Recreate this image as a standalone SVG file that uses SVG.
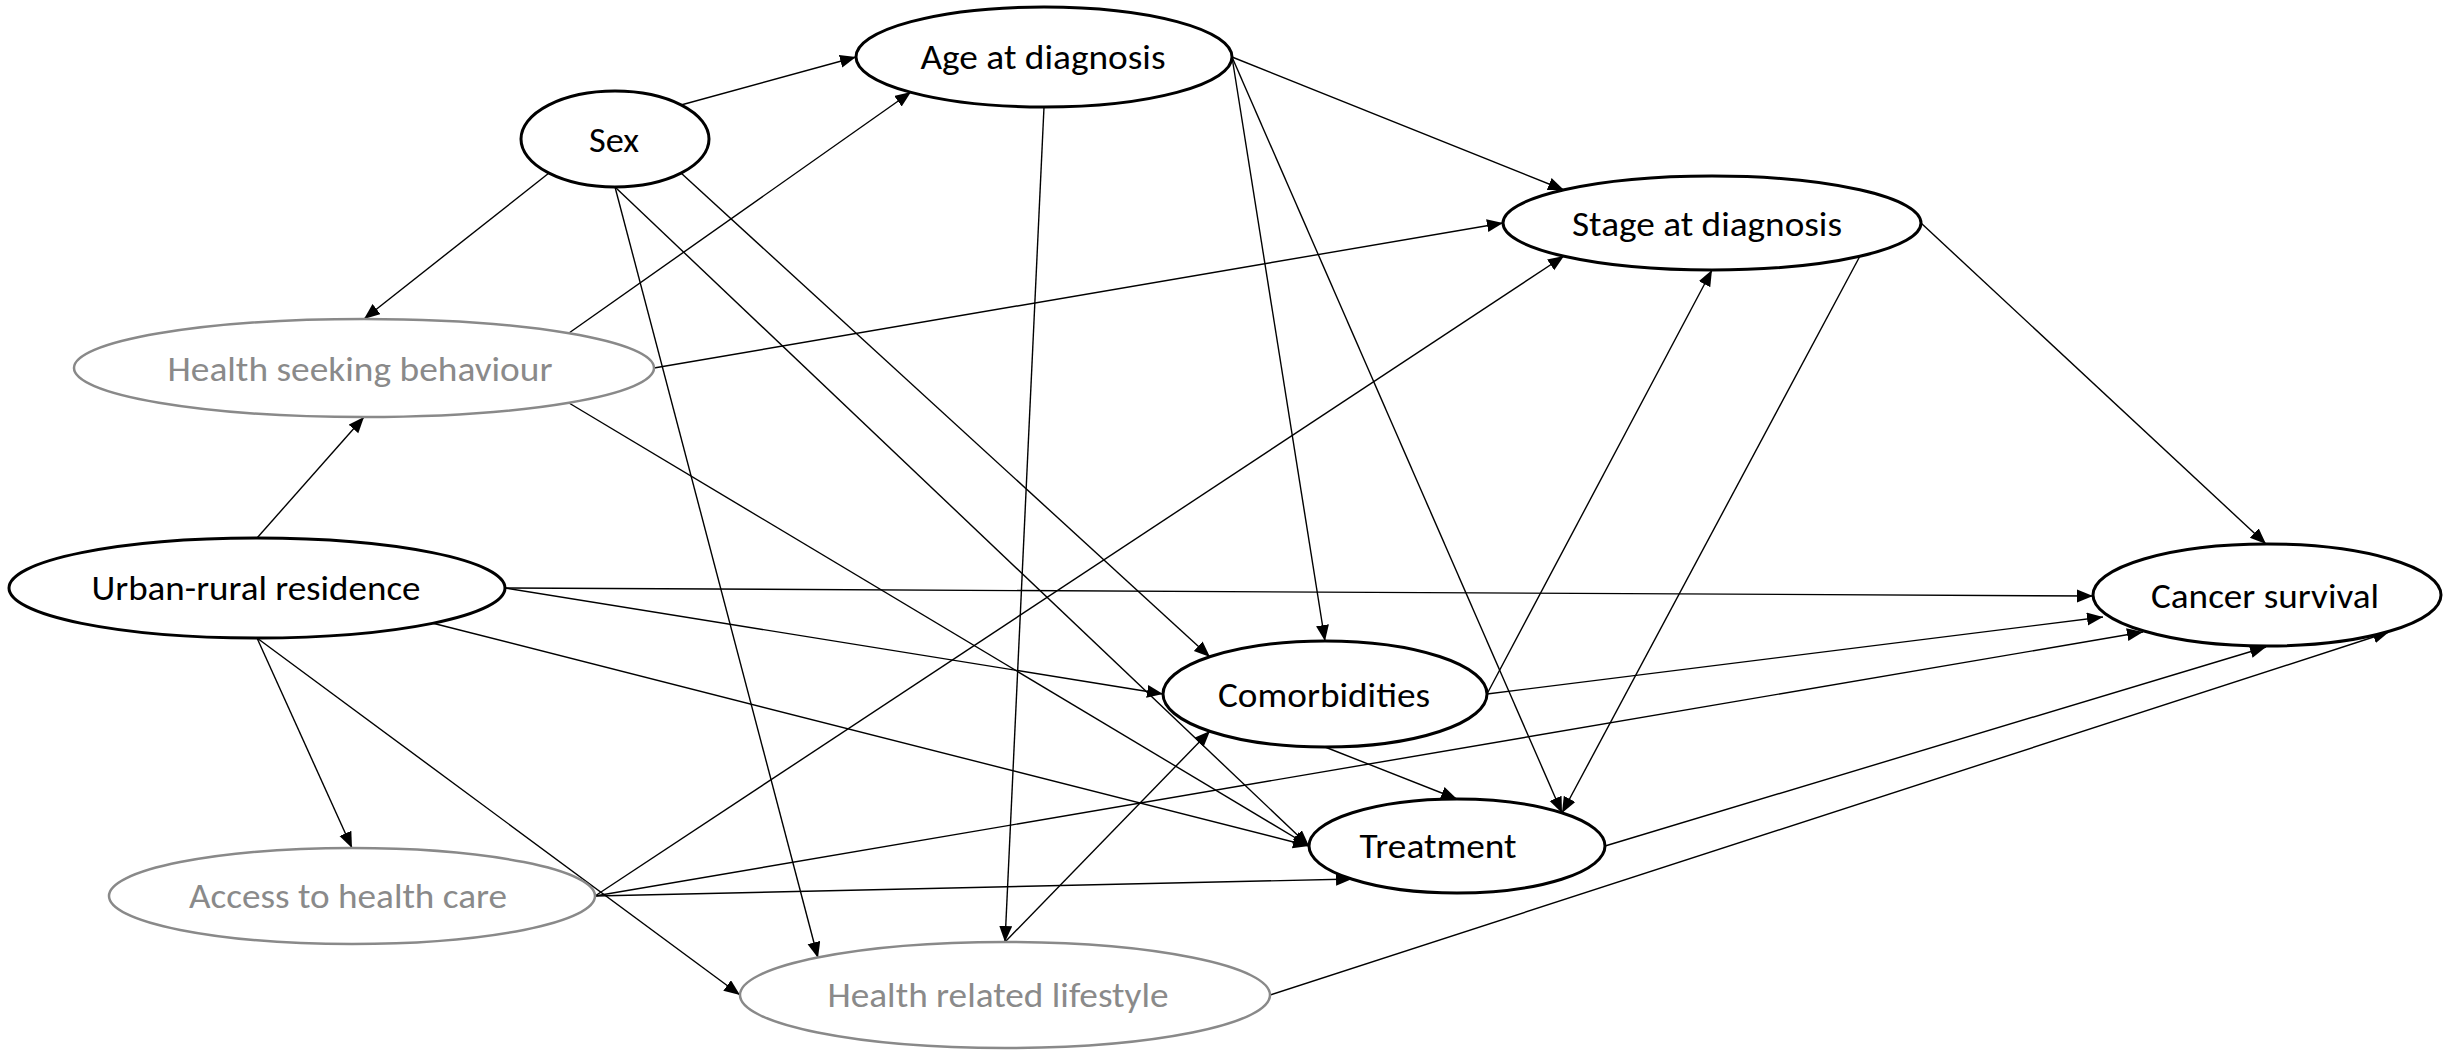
<svg xmlns="http://www.w3.org/2000/svg" width="2460" height="1050" viewBox="0 0 2460 1050">
<style>
.bk{fill:#fff;stroke:#000;stroke-width:3}
.gy{fill:#fff;stroke:#898989;stroke-width:2.5}
.t{font-family:Carlito,"Liberation Sans Narrow","Open Sans",sans-serif;font-size:35px;text-anchor:middle;fill:#000}
.tg{fill:#8a8a8a}
.e{stroke:#000;stroke-width:1.4;fill:none;marker-end:url(#ah)}
</style>
<defs>
<marker id="ah" markerUnits="userSpaceOnUse" markerWidth="17" markerHeight="14" refX="16" refY="6.5" orient="auto">
<path d="M0,0 L16,6.5 L0,13 z" fill="#000"/>
</marker>
</defs>
<rect width="2460" height="1050" fill="#fff"/>
<g id="connectors">
<line class="e" x1="681" y1="105" x2="856" y2="57"/>
<line class="e" x1="549" y1="173" x2="364" y2="319"/>
<line class="e" x1="681" y1="173" x2="1210" y2="657"/>
<line class="e" x1="615" y1="187" x2="1309" y2="846"/>
<line class="e" x1="615" y1="187" x2="818" y2="958"/>
<line class="e" x1="569" y1="333" x2="911" y2="92"/>
<line class="e" x1="654" y1="368" x2="1503" y2="223"/>
<line class="e" x1="569" y1="403" x2="1309" y2="846"/>
<line class="e" x1="257" y1="538" x2="364" y2="417"/>
<line class="e" x1="505" y1="588" x2="2093" y2="596"/>
<line class="e" x1="505" y1="588" x2="1163" y2="694"/>
<line class="e" x1="432" y1="623" x2="1309" y2="846"/>
<line class="e" x1="257" y1="638" x2="352" y2="848"/>
<line class="e" x1="257" y1="638" x2="740" y2="995"/>
<line class="e" x1="595" y1="896" x2="1564" y2="256"/>
<line class="e" x1="595" y1="896" x2="2143" y2="632"/>
<line class="e" x1="595" y1="896" x2="1352" y2="879"/>
<line class="e" x1="1325" y1="747" x2="1457" y2="799"/>
<line class="e" x1="1487" y1="694" x2="2103" y2="617"/>
<line class="e" x1="1487" y1="694" x2="1712" y2="270"/>
<line class="e" x1="1860" y1="256" x2="1562" y2="813"/>
<line class="e" x1="1921" y1="223" x2="2266" y2="544"/>
<line class="e" x1="1232" y1="57" x2="1564" y2="190"/>
<line class="e" x1="1232" y1="57" x2="1325" y2="641"/>
<line class="e" x1="1232" y1="57" x2="1562" y2="813"/>
<line class="e" x1="1044" y1="107" x2="1005" y2="942"/>
<line class="e" x1="1005" y1="942" x2="1210" y2="731"/>
<line class="e" x1="1270" y1="995" x2="2389" y2="632"/>
<line class="e" x1="1605" y1="846" x2="2266" y2="647"/>
</g>
<g id="sex"><ellipse class="bk" cx="615" cy="139" rx="94" ry="48"/><text class="t" x="614" y="152" textLength="50" lengthAdjust="spacingAndGlyphs">Sex</text></g>
<g id="age"><ellipse class="bk" cx="1044" cy="57" rx="188" ry="50"/><text class="t" x="1043" y="69" textLength="245" lengthAdjust="spacingAndGlyphs">Age at diagnosis</text></g>
<g id="stage"><ellipse class="bk" cx="1712" cy="223" rx="209" ry="47"/><text class="t" x="1707" y="236" textLength="270" lengthAdjust="spacingAndGlyphs">Stage at diagnosis</text></g>
<g id="hsb"><ellipse class="gy" cx="364" cy="368" rx="290" ry="49"/><text class="t tg" x="360" y="381" textLength="385" lengthAdjust="spacingAndGlyphs">Health seeking behaviour</text></g>
<g id="urban"><ellipse class="bk" cx="257" cy="588" rx="248" ry="50"/><text class="t" x="256" y="600" textLength="329" lengthAdjust="spacingAndGlyphs">Urban-rural residence</text></g>
<g id="comorbidities"><ellipse class="bk" cx="1325" cy="694" rx="162" ry="53"/><text class="t" x="1324" y="707" textLength="212" lengthAdjust="spacingAndGlyphs">Comorbidities</text></g>
<g id="treatment"><ellipse class="bk" cx="1457" cy="846" rx="148" ry="47"/><text class="t" x="1438" y="858" textLength="157" lengthAdjust="spacingAndGlyphs">Treatment</text></g>
<g id="cancer"><ellipse class="bk" cx="2267" cy="595" rx="174" ry="51"/><text class="t" x="2265" y="608" textLength="228" lengthAdjust="spacingAndGlyphs">Cancer survival</text></g>
<g id="access"><ellipse class="gy" cx="352" cy="896" rx="243" ry="48"/><text class="t tg" x="348" y="908" textLength="318" lengthAdjust="spacingAndGlyphs">Access to health care</text></g>
<g id="hrl"><ellipse class="gy" cx="1005" cy="995" rx="265" ry="53"/><text class="t tg" x="998" y="1007" textLength="341" lengthAdjust="spacingAndGlyphs">Health related lifestyle</text></g>
</svg>
